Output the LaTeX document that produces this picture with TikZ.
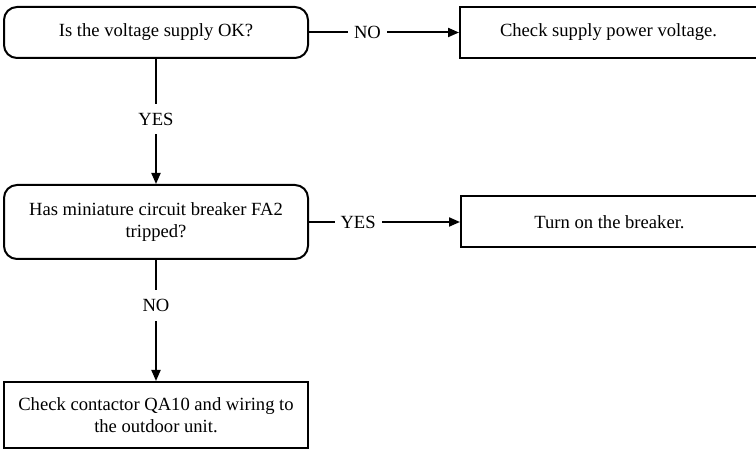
\documentclass[tikz,border=0pt]{standalone}
\usepackage{fontspec}
\setmainfont{LiberationSerif}[Extension=.ttf,UprightFont=*-Regular,BoldFont=*-Bold]
\usetikzlibrary{arrows.meta,positioning}

\begin{document}
\begin{tikzpicture}[
  x=1pt,y=1pt,
  every node/.style={font=\fontsize{18.6}{22}\selectfont},
  q/.style={draw,line width=2pt,rounded corners=13pt,align=center,minimum width=304pt,inner sep=0pt},
  act/.style={draw,line width=2pt,align=center,inner sep=0pt},
  lbl/.style={fill=white,inner xsep=6pt,inner ysep=9pt},
  arr/.style={line width=2pt,-{Triangle[length=11pt,width=9pt]}}
]
\useasboundingbox (0,0) rectangle (756,450);

\node[q,minimum height=51pt] (volt) at (156,417.5) {Is the voltage supply OK?};
\node[act,minimum width=297pt,minimum height=51pt,right=150pt of volt] (supply) {Check supply power voltage.};
\node[q,minimum height=74pt,below=125pt of volt] (mcb) {Has miniature circuit breaker FA2\\tripped?};
\node[act,minimum width=297pt,minimum height=51pt,right=151pt of mcb] (reset) {Turn on the breaker.};
\node[act,minimum width=304pt,minimum height=66pt,below=121pt of mcb] (contactor) {Check contactor QA10 and wiring to\\the outdoor unit.};

\draw[arr] (volt) -- node[lbl,pos=0.39] {NO} (supply);
\draw[arr] (volt) -- node[lbl,pos=0.48] {YES} (mcb);
\draw[arr] (mcb) -- node[lbl,pos=0.325] {YES} (reset);
\draw[arr] (mcb) -- node[lbl,pos=0.376] {NO} (contactor);
\end{tikzpicture}
\end{document}
